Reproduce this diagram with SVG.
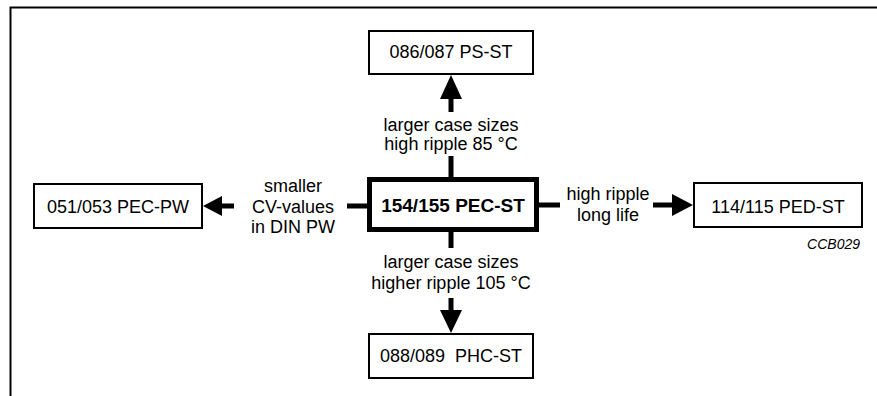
<svg xmlns="http://www.w3.org/2000/svg" width="877" height="396" viewBox="0 0 877 396">
<style>
  text { font-family: "Liberation Sans", Arial, sans-serif; font-size: 18px; fill: #000; text-anchor: middle; }
  .bold { font-weight: bold; font-size: 19px; }
  .code { font-style: italic; font-size: 14px; text-anchor: end; }
  .box { fill: #fff; stroke: #000; stroke-width: 2; }
  .main { fill: #fff; stroke: #000; stroke-width: 5; }
  .line { stroke: #000; stroke-width: 5; fill: none; }
  .head { fill: #000; stroke: none; }
</style>
<rect width="877" height="396" fill="#fff"/>
<path d="M10.5 396 V7.5 H877" fill="none" stroke="#000" stroke-width="2"/>

<g id="connectors">
  <line class="line" x1="451" y1="177" x2="451" y2="156"/>
  <line class="line" x1="451" y1="112" x2="451" y2="98"/>
  <polygon class="head" points="451,75 440,99 462,99"/>
  <line class="line" x1="451" y1="232" x2="451" y2="248"/>
  <line class="line" x1="451" y1="298" x2="451" y2="311"/>
  <polygon class="head" points="451,333 440,310 462,310"/>
  <line class="line" x1="367" y1="206" x2="347" y2="206"/>
  <line class="line" x1="234" y1="206" x2="220" y2="206"/>
  <polygon class="head" points="203,206 222,196 222,216"/>
  <line class="line" x1="539" y1="205" x2="560" y2="205"/>
  <line class="line" x1="653" y1="205" x2="673" y2="205"/>
  <polygon class="head" points="693,205 672,194 672,216"/>
</g>

<g id="labels">
  <text x="451" y="131">larger case sizes</text>
  <text x="451" y="150">high ripple 85 °C</text>
  <text x="451" y="268">larger case sizes</text>
  <text x="451" y="289">higher ripple 105 °C</text>
  <text x="293" y="192">smaller</text>
  <text x="293" y="213">CV-values</text>
  <text x="293" y="233">in DIN PW</text>
  <text x="608" y="200">high ripple</text>
  <text x="608" y="221">long life</text>
  <text class="code" x="860" y="249">CCB029</text>
</g>

<g id="node-center">
  <rect class="main" x="369.5" y="179.5" width="167" height="50"/>
  <text class="bold" x="453" y="212">154/155 PEC-ST</text>
</g>
<g id="node-top">
  <rect class="box" x="369" y="31" width="164" height="43"/>
  <text x="451" y="58">086/087 PS-ST</text>
</g>
<g id="node-bottom">
  <rect class="box" x="369" y="334" width="164" height="44"/>
  <text x="451" y="362" xml:space="preserve">088/089  PHC-ST</text>
</g>
<g id="node-left">
  <rect class="box" x="34" y="184" width="168" height="44"/>
  <text x="118" y="213">051/053 PEC-PW</text>
</g>
<g id="node-right">
  <rect class="box" x="694" y="183" width="168" height="44"/>
  <text x="778" y="213">114/115 PED-ST</text>
</g>
</svg>
